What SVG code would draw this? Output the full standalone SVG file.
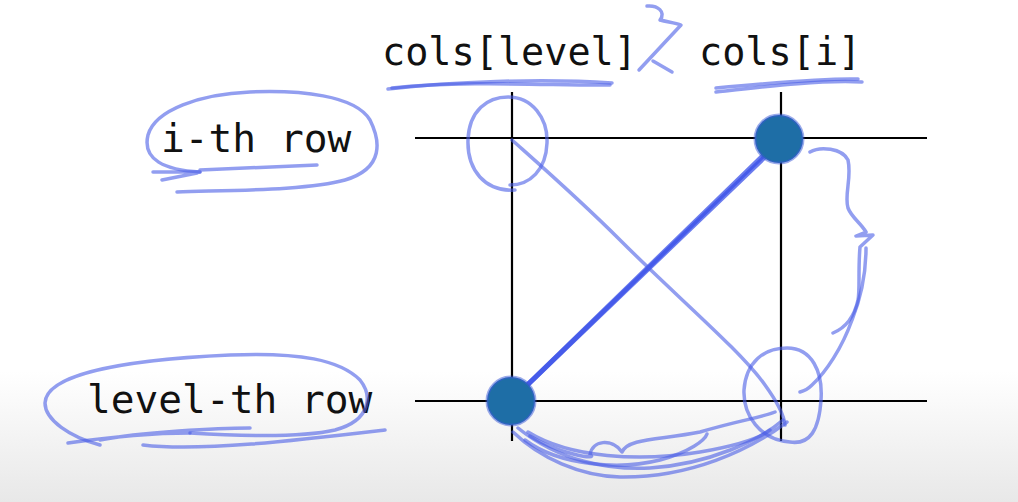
<svg xmlns="http://www.w3.org/2000/svg" width="1018" height="502" viewBox="0 0 1018 502">
<defs>
<linearGradient id="bg" x1="0" y1="0" x2="0" y2="1">
<stop offset="0" stop-color="#ffffff"/>
<stop offset="0.74" stop-color="#ffffff"/>
<stop offset="1" stop-color="#e8e8e8"/>
</linearGradient>
<style>
.lbl{font-family:"DejaVu Sans Mono","Liberation Mono",monospace;font-size:38.5px;fill:#111}
.row{font-size:39.5px}
.grid{stroke:#000;stroke-width:2.2;fill:none}
.pen{stroke:#4a5ee6;stroke-opacity:0.6;stroke-width:3.5;fill:none;stroke-linecap:round;stroke-linejoin:round}
.thick{stroke:#3a50e8;stroke-opacity:0.75;stroke-width:5;fill:none;stroke-linecap:round}
.dot{fill:#1e6ea6;stroke:#3a58d8;stroke-opacity:0.5;stroke-width:3}
</style>
</defs>
<rect width="1018" height="502" fill="url(#bg)"/>
<g id="grid">
<line class="grid" x1="415" y1="138" x2="927" y2="138"/>
<line class="grid" x1="415" y1="401" x2="927" y2="401"/>
<line class="grid" x1="512" y1="92" x2="512" y2="441"/>
<line class="grid" x1="781" y1="92" x2="781" y2="441"/>
</g>
<g id="label-cols-level"><text class="lbl" x="382" y="65">cols[level]</text></g>
<g id="label-cols-i"><text class="lbl" x="699" y="65">cols[i]</text></g>
<g id="label-i-row"><text class="lbl row" x="161" y="152">i-th row</text></g>
<g id="label-level-row"><text class="lbl row" x="87" y="413">level-th row</text></g>
<g id="connectors">
<path class="thick" d="M514,398 L777,142"/>
<path class="thick" d="M520,392 L772,150" stroke-width="3"/>
<path class="pen" d="M512,140 C540,165 580,200 620,240 C680,300 740,350 765,385 C778,403 784,415 785,425"/>
<path class="pen" d="M513,432 C540,458 580,476 620,477 C690,478 750,450 787,422"/>
<path class="pen" d="M518,428 C560,462 610,470 650,468 C710,464 760,440 783,420"/>
<path class="pen" d="M528,432 C570,458 640,462 700,452 C740,445 760,438 770,430"/>
<path class="pen" d="M530,436 C560,455 600,460 590,455 C592,440 612,438 622,452 C628,438 660,440 700,432 C740,420 760,418 775,412"/>
<path class="pen" d="M525,440 C560,466 620,470 660,460 C690,452 705,440 707,434"/>
</g>
<g id="node-dot-top"><circle class="dot" cx="779" cy="139" r="24"/></g>
<g id="node-dot-bottom"><circle class="dot" cx="511" cy="401" r="24"/></g>
<g id="annotations">
<path class="pen" d="M388,89 C450,82 540,78 612,83"/>
<path class="pen" d="M392,88 C470,80 560,86 610,85"/>
<path class="pen" d="M716,92 C770,86 820,80 862,82"/>
<path class="pen" d="M716,88 C780,82 830,78 858,79"/>
<path class="pen" d="M647,6 C658,5 666,12 660,20 C668,22 676,23 681,25 L639,70"/>
<path class="pen" d="M653,61 L672,72"/>
<path class="pen" d="M177,192 C240,190 310,190 345,180 C385,168 380,140 370,120 C355,95 300,90 250,92 C200,94 155,110 148,135 C142,160 165,170 200,172"/>
<path class="pen" d="M153,172 L200,172 M162,180 L197,173 M200,170 L317,165"/>
<path class="pen" d="M515,190 C485,192 467,170 468,140 C469,110 488,97 508,97 C532,97 548,118 547,143 C546,170 530,185 510,185"/>
<path class="pen" d="M100,445 C70,437 45,420 45,403 C46,375 120,360 230,355 C300,352 340,360 360,380 C372,395 372,420 335,430 C300,438 240,436 190,433"/>
<path class="pen" d="M68,443 C110,437 160,433 190,433 M143,445 C200,452 300,440 385,430 M100,440 C140,432 220,428 250,428"/>
<path class="pen" d="M790,442 C760,440 743,415 744,390 C746,362 764,348 787,348 C812,348 823,372 821,400 C819,430 810,445 790,442"/>
<path class="pen" d="M810,152 C820,146 842,148 848,160 C852,178 844,195 848,208 C852,218 860,222 866,232 L856,236 L873,235 L860,247 C858,270 860,290 858,300 C854,318 845,328 833,333"/>
<path class="pen" d="M866,248 C866,270 862,295 852,320 C842,348 826,372 812,385 C808,389 804,391 800,392"/>
</g>
</svg>
